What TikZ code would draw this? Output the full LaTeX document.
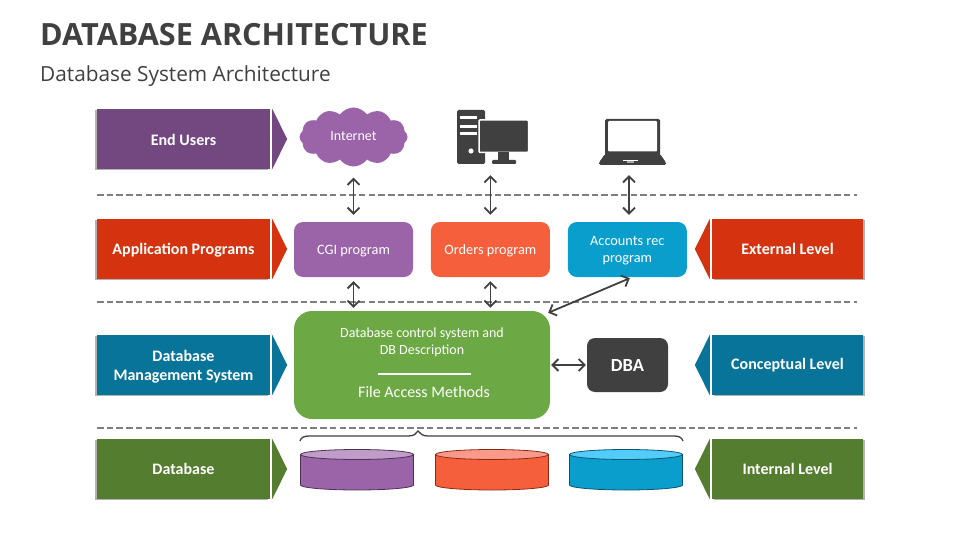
\documentclass[tikz,border=0pt]{standalone}
\usepackage{fontspec}
\setmainfont{Carlito}
\newfontfamily\headfont{Open Sans}
\usetikzlibrary{arrows.meta,positioning,shadows,shapes.symbols}

\definecolor{ink}{HTML}{404040}
\definecolor{rulegray}{HTML}{7F7F7F}
\definecolor{plum}{HTML}{734780}
\definecolor{brick}{HTML}{D5330F}
\definecolor{teal}{HTML}{08749A}
\definecolor{moss}{HTML}{547D2F}
\definecolor{violet}{HTML}{9B63A8}
\definecolor{coral}{HTML}{F55F3C}
\definecolor{sky}{HTML}{0A9ECC}
\definecolor{leaf}{HTML}{6CA843}

\newcommand{\lowertext}[2]{\raisebox{-#1}[\height][\depth]{#2}}

\begin{document}
\begin{tikzpicture}[
		x=1pt, y=-1pt,
		>={Straight Barb[length=6pt,width=12pt]},
		banner/.style={minimum height=60pt, inner sep=0pt, align=center, text=white,
			font={\fontsize{16}{19}\selectfont\bfseries}},
		left tab/.style={banner, minimum width=173pt,
			drop shadow={shadow xshift=-2pt, shadow yshift=-1pt, opacity=.3, fill=black}},
		right tab/.style={banner, minimum width=151pt,
			drop shadow={shadow xshift=2pt, shadow yshift=-1pt, opacity=.3, fill=black}},
		program/.style={rounded corners=9pt, minimum width=119pt, minimum height=55pt, inner sep=0pt,
			align=center, text=white, font={\fontsize{14.3}{18}\selectfont}},
		link/.style={<->, draw=ink, line width=1.8pt},
		level line/.style={draw=rulegray, line width=1.3pt, dash pattern=on 6.5pt off 3.2pt},
		disk/.style={line width=.8pt}
	]
	\useasboundingbox (0,0) rectangle (960,540);

	\node (title) [anchor=base west, inner sep=0pt, text=ink, font={\headfont\fontsize{30.6}{40}\selectfont\bfseries}]
		at (40,46) {DATABASE ARCHITECTURE};
	\node (subtitle) [anchor=base west, inner sep=0pt, text=ink, font={\headfont\fontsize{20.8}{24}\selectfont}]
		at (40,82) {Database System Architecture};

% >> level lines
	\foreach \y in {195,302,428}
		\draw[level line] (97,\y) -- (857,\y);

% >> tabs
	\foreach \name/\col/\y/\txt in {users/plum/139/\lowertext{1pt}{End Users},
			apps/brick/249/\lowertext{1pt}{Application Programs},
			dbms/teal/365/{\lowertext{2pt}{Database}\\\lowertext{2pt}{Management System}},
			data/moss/469/Database}{
		\node (\name) [left tab, fill=\col] at (183.5,\y) {\txt};
		\fill[\col] ([xshift=2pt]\name.north east) -- ([xshift=17pt]\name.east)
			-- ([xshift=2pt]\name.south east) -- cycle;
	}
	\foreach \name/\col/\y/\txt in {external/brick/249/External Level,
			conceptual/teal/365/Conceptual Level,
			internal/moss/469/Internal Level}{
		\node (\name) [right tab, fill=\col] at (787.5,\y) {\txt};
		\fill[\col] ([xshift=-2pt]\name.north west) -- ([xshift=-17pt]\name.west)
			-- ([xshift=-2pt]\name.south west) -- cycle;
	}

% >> top row
	\node (internet) [cloud, cloud puffs=12, cloud puff arc=110, aspect=1.85, fill=violet, text=white,
		minimum width=108pt, minimum height=59pt, inner sep=0pt,
		font={\fontsize{14}{16}\selectfont}] at (353.5,137) {\raisebox{2pt}{Internet}};

	\node (desktop) [minimum width=71pt, minimum height=54pt, inner sep=0pt] at (492.5,137) {};
	\fill[ink, rounded corners=1.5pt] (457,110) rectangle (485,164);
	\foreach \y in {118,127,134}
		\fill[white] (460,\y-1.5) rectangle (477,\y+1.5);
	\fill[white] (471,151) circle [radius=2.6pt];
	\fill[ink, rounded corners=1pt, draw=white, line width=1.5pt] (479,120) rectangle (528.5,152.5);
	\fill[ink] (498,152) rectangle (509,160);
	\fill[ink, rounded corners=1pt] (492,160) rectangle (516,164);

	\node (laptop) [minimum width=60pt, minimum height=46pt, inner sep=0pt] at (629,142) {};
	\fill[ink, rounded corners=1.5pt] (605,119) rectangle (660,156);
	\fill[white, rounded corners=1pt] (608,121) rectangle (657,151.5);
	\fill[ink, rounded corners=1.5pt] (605,154) -- (660,154) -- (666,162.5) -- (666,165) -- (599,165) -- (599,162.5) -- cycle;
	\fill[white] (623,160) rectangle (638,161.5);
	\fill[gray!70] (627,161.5) rectangle (634,163);

% >> programs
	\node (cgi) [program, fill=violet] at (353.5,249.5) {\lowertext{1.5pt}{CGI program}};
	\node (orders) [program, fill=coral, right=17.5pt of cgi] {\lowertext{1pt}{Orders program}};
	\node (accounts) [program, fill=sky, right=17.5pt of orders] {\lowertext{2pt}{Accounts rec}\\\lowertext{1pt}{program}};

	\node (control) [rounded corners=18pt, fill=leaf, minimum width=256pt, minimum height=108pt, inner sep=0pt] at (422,365) {};
	\node (controltext) [align=center, text=white, inner sep=0pt, font={\fontsize{14}{17}\selectfont}] at (422,342)
		{Database control system and\\DB Description};
	\draw[white, line width=1.2pt] (378,374) -- (471,374);
	\node (access) [text=white, inner sep=0pt, font={\fontsize{16}{18}\selectfont}] at (424,392) {File Access Methods};

	\node (dba) [rounded corners=8pt, fill=ink, text=white, minimum width=81pt, minimum height=54pt, inner sep=0pt,
		font={\fontsize{18.5}{20}\selectfont\bfseries}] at (627.5,365) {DBA};

% >> links
	\draw[link, shorten <=11pt, shorten >=7pt] (internet.south) -- (cgi.north);
	\draw[link, shorten <=11pt, shorten >=7pt] (desktop.south -| orders.north) -- (orders.north);
	\draw[link, shorten <=10pt, shorten >=7pt] (laptop.south) -- (laptop.south |- accounts.north);
	\draw[link, shorten <=4pt, shorten >=3pt] (cgi.south) -- (cgi.south |- control.north);
	\draw[link, shorten <=4pt, shorten >=3pt] (orders.south) -- (orders.south |- control.north);
	\draw[link] ([xshift=2.5pt,yshift=-1pt]accounts.south) -- ([xshift=-2pt,yshift=-2pt]control.north east);
	\draw[link, shorten <=1pt, shorten >=1pt] (control.east) -- (dba.west);

% >> disks
	\draw[ink, line width=1.3pt] (300,441) .. controls (301,437.5) and (304,436) .. (309,436) -- (408,436)
		.. controls (414,436) and (416,434) .. (418,431) .. controls (420,434) and (423,436) .. (428,436)
		-- (674,436) .. controls (679,436) and (682,437.5) .. (683,441);
	\foreach \x/\body/\lid/\edge in {300.5/violet/C09CC8/4E3159,
			435.5/coral/F9998A/8E2A14,
			569.5/sky/52CCFA/0B5570}{
		\definecolor{lidcol}{HTML}{\lid}
		\definecolor{edgecol}{HTML}{\edge}
		\draw[disk, draw=edgecol, fill=\body] (\x,454.5) -- (\x,485)
			arc[start angle=180, end angle=360, x radius=56.5pt, y radius=5pt] -- (\x+113,454.5) -- cycle;
		\draw[disk, draw=edgecol, fill=lidcol] (\x+56.5,454.5) ellipse [x radius=56.5pt, y radius=5pt];
	}
\end{tikzpicture}
\end{document}
